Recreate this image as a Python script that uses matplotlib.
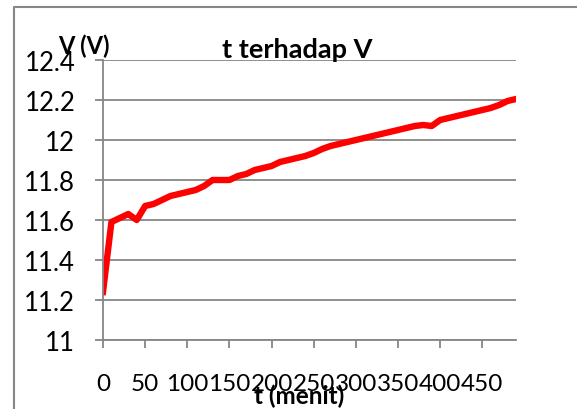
import matplotlib
matplotlib.use("Agg")
import matplotlib.pyplot as plt
from matplotlib.lines import Line2D

t_menit = [0, 10, 20, 30, 40, 50, 60, 70, 80, 90,
           100, 110, 120, 130, 140, 150, 160, 170, 180, 190,
           200, 210, 220, 230, 240, 250, 260, 270, 280, 290,
           300, 310, 320, 330, 340, 350, 360, 370, 380, 390,
           400, 410, 420, 430, 440, 450, 460, 470, 480, 490]
v_volt = [11.24, 11.59, 11.61, 11.63, 11.60, 11.67, 11.68, 11.70, 11.72, 11.73,
          11.74, 11.75, 11.77, 11.80, 11.80, 11.80, 11.82, 11.83, 11.85, 11.86,
          11.87, 11.89, 11.90, 11.91, 11.92, 11.935, 11.955, 11.97, 11.98, 11.99,
          12.00, 12.01, 12.02, 12.03, 12.04, 12.05, 12.06, 12.07, 12.075, 12.07,
          12.10, 12.11, 12.12, 12.13, 12.14, 12.15, 12.16, 12.175, 12.195, 12.205]
x_ticks = [0, 50, 100, 150, 200, 250, 300, 350, 400, 450]
y_ticks = [11, 11.2, 11.4, 11.6, 11.8, 12, 12.2, 12.4]
y_labels = ["11", "11.2", "11.4", "11.6", "11.8", "12", "12.2", "12.4"]

plt.rcParams['font.family'] = ['Lato', 'DejaVu Sans']
W, H = 577, 410
grey = "#868686"

fig = plt.figure(figsize=(W / 100, H / 100), dpi=100)
ax = fig.add_axes([103 / W, 1 - 341 / H, (516 - 103) / W, (341 - 61) / H])

ax.plot(t_menit, v_volt, color="#ff0000", linewidth=4.6, solid_joinstyle="round")

ax.set_xlim(0, 490)
ax.set_ylim(11, 12.4)
ax.set_xticks(x_ticks)
ax.set_xticklabels([str(v) for v in x_ticks])
ax.set_yticks(y_ticks)
ax.set_yticklabels(y_labels)
ax.yaxis.grid(True, color=grey, linewidth=1.3)
ax.set_axisbelow(True)

for s in ["top", "right"]:
    ax.spines[s].set_visible(False)
for s in ["left", "bottom"]:
    ax.spines[s].set_color(grey)
    ax.spines[s].set_linewidth(1.3)

ax.tick_params(axis="x", direction="out", length=6, width=1.3, color=grey,
               labelsize=17.5, pad=18)
ax.tick_params(axis="y", direction="out", length=6, width=1.3, color=grey,
               labelsize=18.5, pad=14)

fig.text(297 / W, 1 - 50 / H, "t terhadap V", ha="center", va="center",
         fontsize=19.5, fontweight="bold")
fig.text(84 / W, 1 - 46 / H, "V (V)", ha="center", va="center",
         fontsize=17, fontweight="bold")
fig.text(299 / W, 1 - 396 / H, "t (menit)", ha="center", va="center",
         fontsize=17.5, fontweight="bold")

# outer chart frame (left and top edges visible)
fig.add_artist(Line2D([14 / W, 14 / W, 1.0], [0.0, 1 - 8 / H, 1 - 8 / H],
                      transform=fig.transFigure, color=grey, linewidth=1.5))

fig.savefig("out.png", dpi=100)
